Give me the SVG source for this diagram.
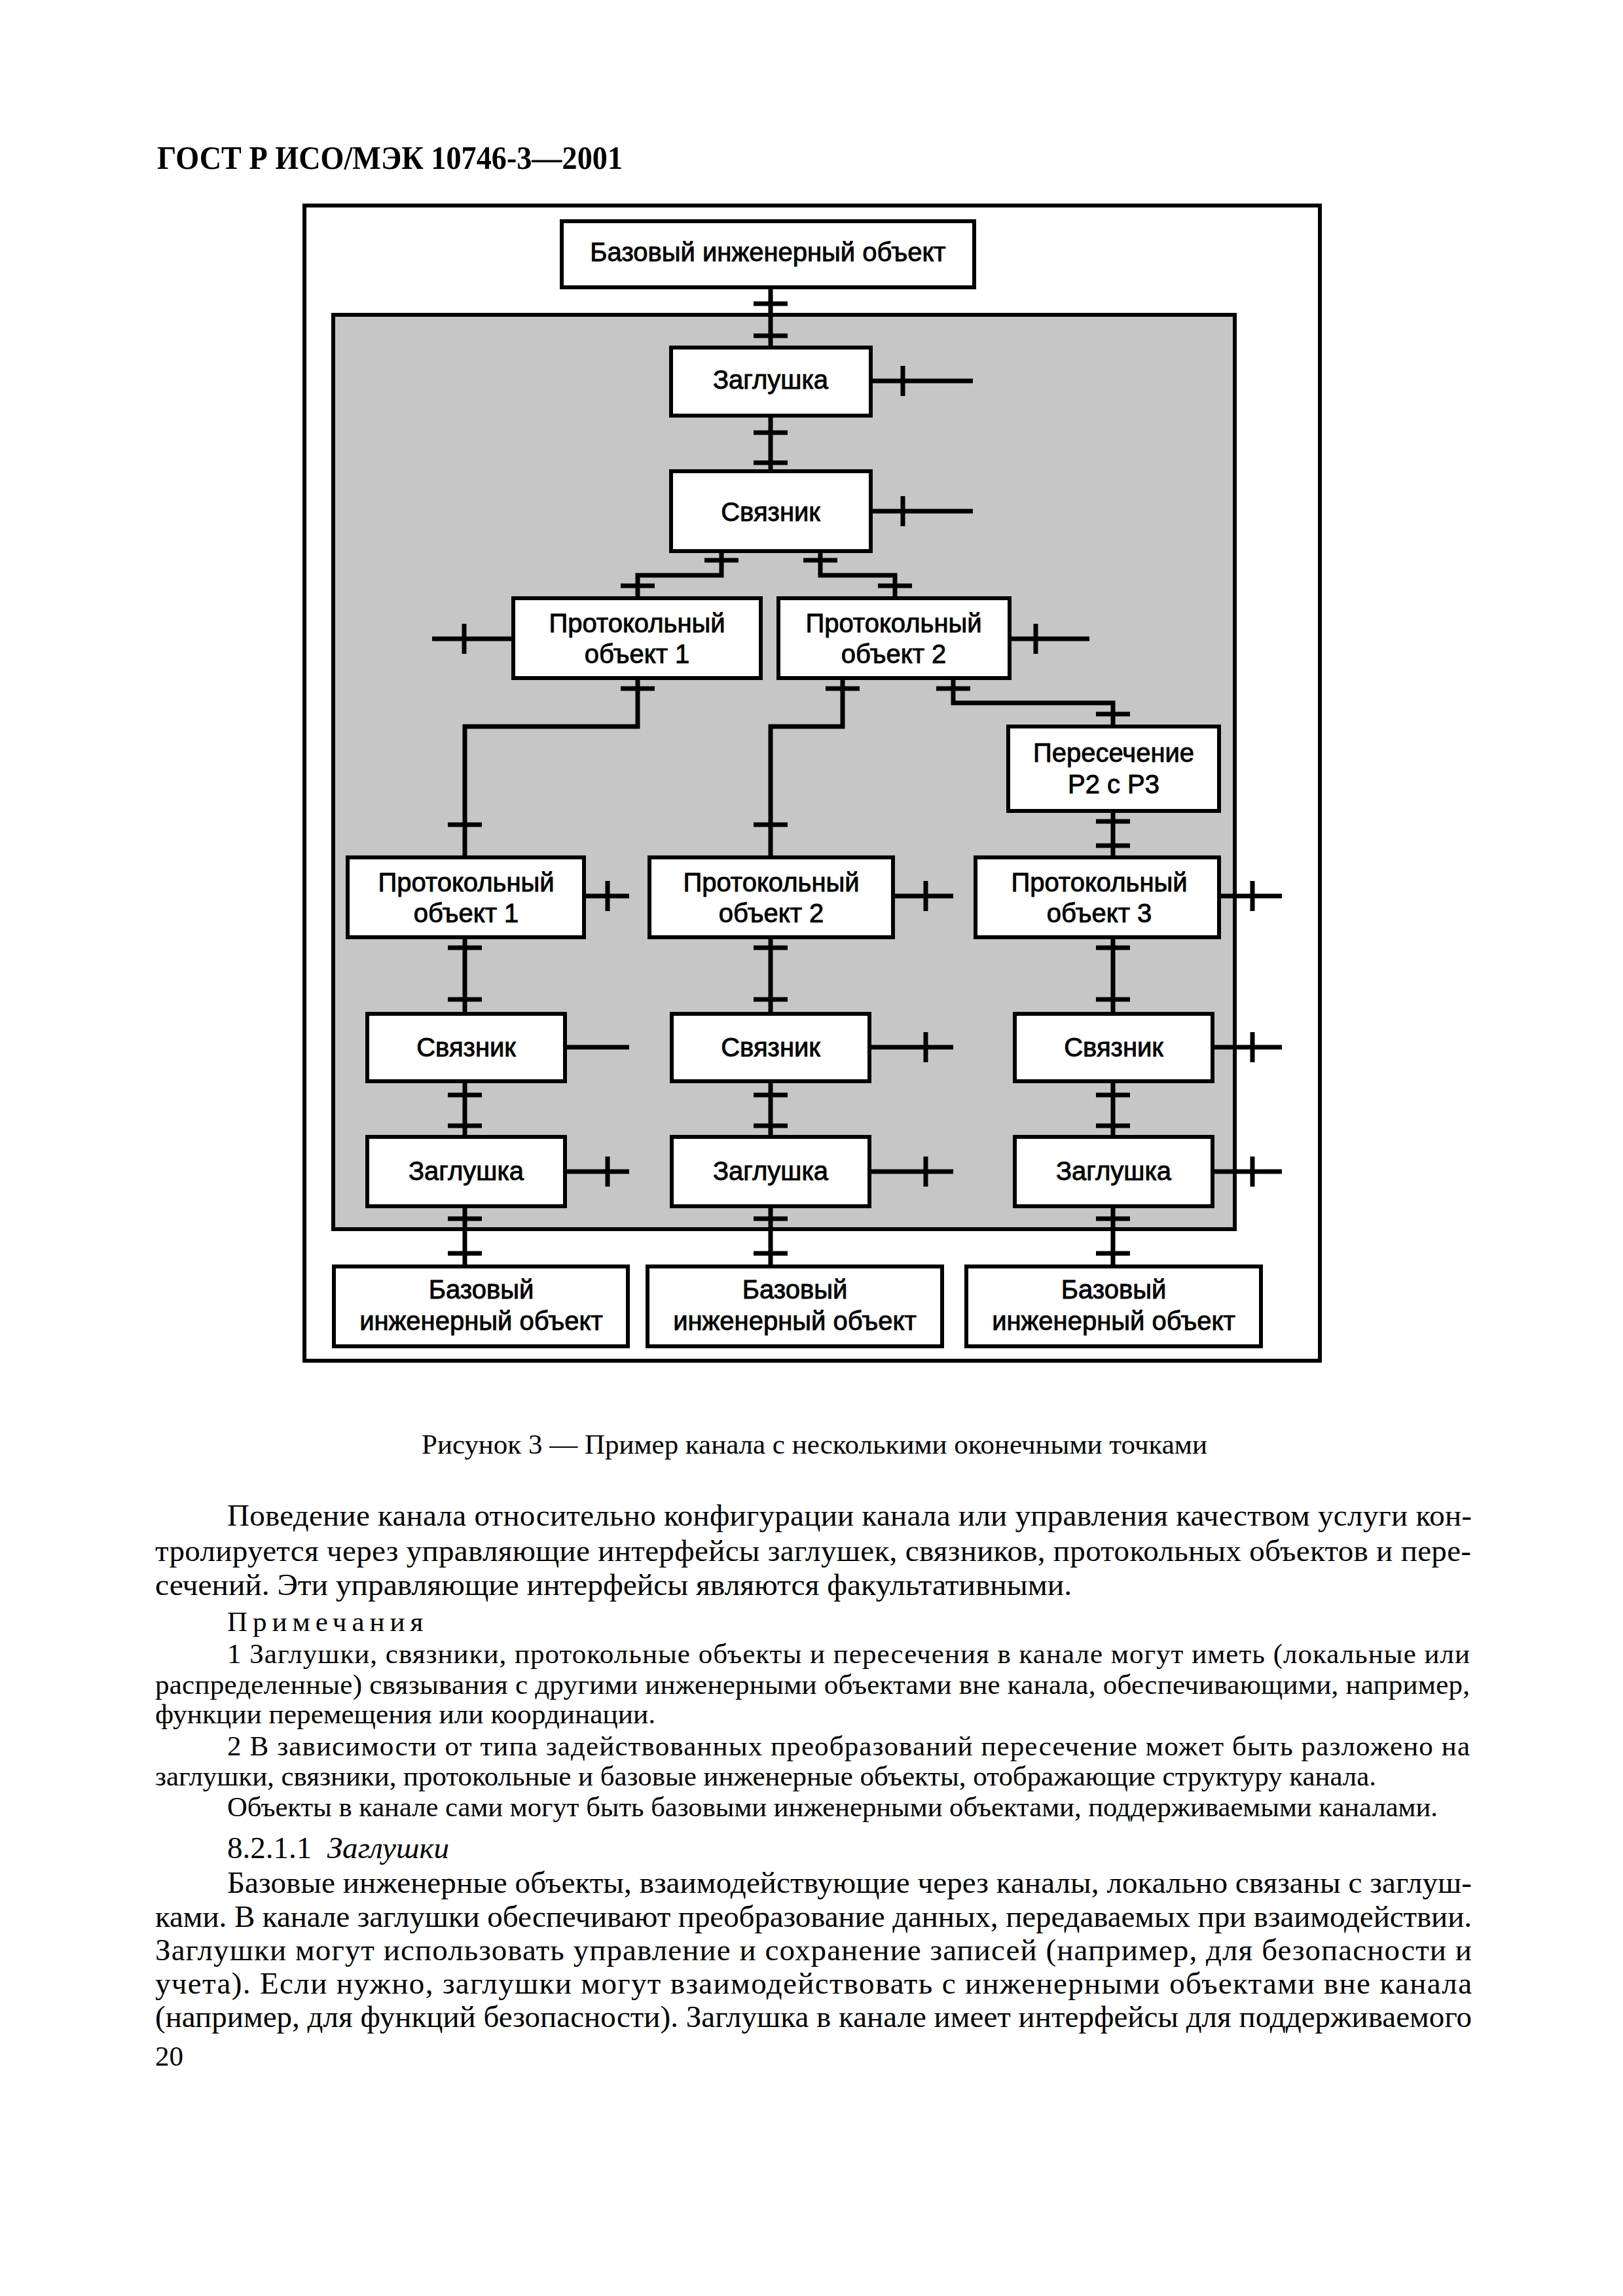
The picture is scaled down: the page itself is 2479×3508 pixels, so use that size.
<svg xmlns="http://www.w3.org/2000/svg" width="2479" height="3508" viewBox="0 0 2479 3508">
<style>
.bg{fill:#ffffff}
.frame{fill:none;stroke:#000;stroke-width:6}
.chan{fill:#c6c6c6;stroke:#000;stroke-width:6}
.box{fill:#fff;stroke:#000;stroke-width:6}
.lbl{font-family:"Liberation Sans",Arial,sans-serif;font-size:40px;fill:#000;stroke:#000;stroke-width:0.9;text-anchor:middle}
.cn{fill:none;stroke:#000;stroke-width:7}
.doc{font-family:"Liberation Serif","Times New Roman",serif;fill:#000}
.hdr{font-size:50px;font-weight:bold}
.body{font-size:47px}
.note{font-size:43px}
.cap{font-size:43px;text-anchor:middle}
</style>
<rect class="bg" x="0" y="0" width="2479" height="3508"/>
<text class="doc hdr" x="240" y="258" textLength="711" lengthAdjust="spacingAndGlyphs">ГОСТ Р ИСО/МЭК 10746-3—2001</text>
<rect class="frame" x="465" y="314" width="1551" height="1765"/>
<rect id="channel" class="chan" x="509" y="481" width="1377" height="1397"/>
<g id="connectors">
<path class="cn" d="M1177 439V531M1151 464H1203M1151 513H1203"/>
<path class="cn" d="M1330 582H1486M1379 559V605"/>
<path class="cn" d="M1177 635V720M1151 661H1203M1151 707H1203"/>
<path class="cn" d="M1330 781H1486M1379 758V804"/>
<path class="cn" d="M1102 842V879H974V914M1076 856H1128M948 895H1000"/>
<path class="cn" d="M1253 842V879H1367V914M1227 856H1279M1341 895H1393"/>
<path class="cn" d="M784 976H660M709 953V999"/>
<path class="cn" d="M1542 976H1664M1582 953V999"/>
<path class="cn" d="M974 1036V1110H710V1310M948 1052H1000M684 1260H736"/>
<path class="cn" d="M1287 1036V1110H1177V1310M1261 1052H1313M1151 1260H1203"/>
<path class="cn" d="M1456 1036V1074H1700V1110M1430 1052H1482M1674 1091H1726"/>
<path class="cn" d="M1700 1239V1310M1674 1255H1726M1674 1292H1726"/>
<path class="cn" d="M892 1369H961M928 1346V1392"/>
<path class="cn" d="M1364 1369H1456M1414 1346V1392"/>
<path class="cn" d="M1862 1369H1958M1913 1346V1392"/>
<path class="cn" d="M710 1432V1549M684 1448H736M684 1527H736"/>
<path class="cn" d="M1177 1432V1549M1151 1448H1203M1151 1527H1203"/>
<path class="cn" d="M1700 1432V1549M1674 1448H1726M1674 1527H1726"/>
<path class="cn" d="M863 1600H961"/>
<path class="cn" d="M1328 1600H1456M1414 1577V1623"/>
<path class="cn" d="M1852 1600H1958M1913 1577V1623"/>
<path class="cn" d="M710 1652V1737M684 1673H736M684 1720H736"/>
<path class="cn" d="M1177 1652V1737M1151 1673H1203M1151 1720H1203"/>
<path class="cn" d="M1700 1652V1737M1674 1673H1726M1674 1720H1726"/>
<path class="cn" d="M863 1790H961M928 1767V1813"/>
<path class="cn" d="M1328 1790H1456M1414 1767V1813"/>
<path class="cn" d="M1852 1790H1958M1913 1767V1813"/>
<path class="cn" d="M710 1843V1935M684 1862H736M684 1915H736"/>
<path class="cn" d="M1177 1843V1935M1151 1862H1203M1151 1915H1203"/>
<path class="cn" d="M1700 1843V1935M1674 1862H1726M1674 1915H1726"/>
</g>
<g id="bio-top"><rect class="box" x="858" y="338" width="630" height="101"/><text class="lbl" x="1173" y="399">Базовый инженерный объект</text></g>
<g id="stub-top"><rect class="box" x="1025" y="531" width="305" height="104"/><text class="lbl" x="1177" y="594">Заглушка</text></g>
<g id="binder-top"><rect class="box" x="1025" y="720" width="305" height="122"/><text class="lbl" x="1177" y="796">Связник</text></g>
<g id="po1-top"><rect class="box" x="784" y="914" width="378" height="122"/><text class="lbl" x="973" y="966">Протокольный</text><text class="lbl" x="973" y="1013">объект 1</text></g>
<g id="po2-top"><rect class="box" x="1189" y="914" width="353" height="122"/><text class="lbl" x="1365" y="966">Протокольный</text><text class="lbl" x="1365" y="1013">объект 2</text></g>
<g id="interceptor"><rect class="box" x="1540" y="1110" width="322" height="129"/><text class="lbl" x="1701" y="1164">Пересечение</text><text class="lbl" x="1701" y="1212">P2 с P3</text></g>
<g id="po1"><rect class="box" x="531" y="1310" width="361" height="122"/><text class="lbl" x="712" y="1362">Протокольный</text><text class="lbl" x="712" y="1409">объект 1</text></g>
<g id="po2"><rect class="box" x="992" y="1310" width="372" height="122"/><text class="lbl" x="1178" y="1362">Протокольный</text><text class="lbl" x="1178" y="1409">объект 2</text></g>
<g id="po3"><rect class="box" x="1490" y="1310" width="372" height="122"/><text class="lbl" x="1679" y="1362">Протокольный</text><text class="lbl" x="1679" y="1409">объект 3</text></g>
<g id="binder1"><rect class="box" x="561" y="1549" width="302" height="103"/><text class="lbl" x="712" y="1614">Связник</text></g>
<g id="binder2"><rect class="box" x="1026" y="1549" width="302" height="103"/><text class="lbl" x="1177" y="1614">Связник</text></g>
<g id="binder3"><rect class="box" x="1550" y="1549" width="302" height="103"/><text class="lbl" x="1701" y="1614">Связник</text></g>
<g id="stub1"><rect class="box" x="561" y="1737" width="302" height="106"/><text class="lbl" x="712" y="1803">Заглушка</text></g>
<g id="stub2"><rect class="box" x="1026" y="1737" width="302" height="106"/><text class="lbl" x="1177" y="1803">Заглушка</text></g>
<g id="stub3"><rect class="box" x="1550" y="1737" width="302" height="106"/><text class="lbl" x="1701" y="1803">Заглушка</text></g>
<g id="bio1"><rect class="box" x="510" y="1935" width="449" height="122"/><text class="lbl" x="735" y="1984">Базовый</text><text class="lbl" x="735" y="2032">инженерный объект</text></g>
<g id="bio2"><rect class="box" x="989" y="1935" width="450" height="122"/><text class="lbl" x="1214" y="1984">Базовый</text><text class="lbl" x="1214" y="2032">инженерный объект</text></g>
<g id="bio3"><rect class="box" x="1476" y="1935" width="450" height="122"/><text class="lbl" x="1701" y="1984">Базовый</text><text class="lbl" x="1701" y="2032">инженерный объект</text></g>
<text class="doc cap" x="1244" y="2221" textLength="1200" lengthAdjust="spacingAndGlyphs">Рисунок 3 — Пример канала с несколькими оконечными точками</text>
<text class="doc body" x="347" y="2331" textLength="1901" lengthAdjust="spacing">Поведение канала относительно конфигурации канала или управления качеством услуги кон-</text>
<text class="doc body" x="237" y="2385" textLength="2010" lengthAdjust="spacing">тролируется через управляющие интерфейсы заглушек, связников, протокольных объектов и пере-</text>
<text class="doc body" x="237" y="2437" textLength="1400" lengthAdjust="spacingAndGlyphs">сечений. Эти управляющие интерфейсы являются факультативными.</text>
<text class="doc note" x="347" y="2492" letter-spacing="8">Примечания</text>
<text class="doc note" x="347" y="2541" textLength="1898" lengthAdjust="spacing">1 Заглушки, связники, протокольные объекты и пересечения в канале могут иметь (локальные или</text>
<text class="doc note" x="237" y="2588" textLength="2008" lengthAdjust="spacing">распределенные) связывания с другими инженерными объектами вне канала, обеспечивающими, например,</text>
<text class="doc note" x="237" y="2633" textLength="764" lengthAdjust="spacingAndGlyphs">функции перемещения или координации.</text>
<text class="doc note" x="347" y="2682" textLength="1898" lengthAdjust="spacing">2 В зависимости от типа задействованных преобразований пересечение может быть разложено на</text>
<text class="doc note" x="237" y="2728" textLength="1865" lengthAdjust="spacingAndGlyphs">заглушки, связники, протокольные и базовые инженерные объекты, отображающие структуру канала.</text>
<text class="doc note" x="347" y="2775" textLength="1849" lengthAdjust="spacingAndGlyphs">Объекты в канале сами могут быть базовыми инженерными объектами, поддерживаемыми каналами.</text>
<text class="doc body" x="347" y="2839" xml:space="preserve">8.2.1.1  <tspan font-style="italic">Заглушки</tspan></text>
<text class="doc body" x="347" y="2892" textLength="1901" lengthAdjust="spacing">Базовые инженерные объекты, взаимодействующие через каналы, локально связаны с заглуш-</text>
<text class="doc body" x="237" y="2944" textLength="2011" lengthAdjust="spacing">ками. В канале заглушки обеспечивают преобразование данных, передаваемых при взаимодействии.</text>
<text class="doc body" x="237" y="2995" textLength="2011" lengthAdjust="spacing">Заглушки могут использовать управление и сохранение записей (например, для безопасности и</text>
<text class="doc body" x="237" y="3046" textLength="2011" lengthAdjust="spacing">учета). Если нужно, заглушки могут взаимодействовать с инженерными объектами вне канала</text>
<text class="doc body" x="237" y="3097" textLength="2011" lengthAdjust="spacing">(например, для функций безопасности). Заглушка в канале имеет интерфейсы для поддерживаемого</text>
<text class="doc note" x="237" y="3156">20</text>
</svg>
